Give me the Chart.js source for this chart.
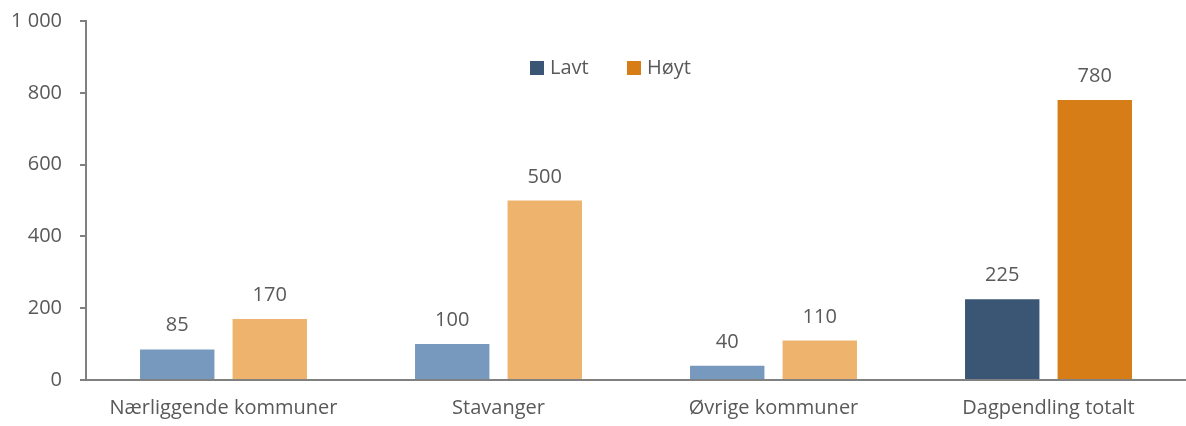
<!DOCTYPE html>
<html lang="no">
<head>
<meta charset="UTF-8">
<title>Dagpendling</title>
<script src="https://cdn.jsdelivr.net/npm/chart.js@4"></script>
<style>
  html, body { margin: 0; padding: 0; background: #fff; }
  #wrap { width: 1186px; height: 426px; }
</style>
</head>
<body>
<div id="wrap"><canvas id="chart" width="1186" height="426"></canvas></div>
<script>
// data
const categories = ['Nærliggende kommuner', 'Stavanger', 'Øvrige kommuner', 'Dagpendling totalt'];
const lavt = [85, 100, 40, 225];
const hoyt = [170, 500, 110, 780];
const yTicks = [0, 200, 400, 600, 800, 1000];

const textColor = '#595959';
const fontFamily = '"Open Sans", sans-serif';
const lavtColors = ['#7899be', '#7899be', '#7899be', '#3a5674'];
const hoytColors = ['#eeb36c', '#eeb36c', '#eeb36c', '#d67d17'];

function fmt(v) {
  return String(v).replace(/\B(?=(\d{3})+(?!\d))/g, ' ');
}

// value over each bar
const barLabels = {
  id: 'barLabels',
  afterDatasetsDraw(chart) {
    const ctx = chart.ctx;
    ctx.save();
    ctx.font = '20px ' + fontFamily;
    ctx.fillStyle = textColor;
    ctx.textAlign = 'center';
    ctx.textBaseline = 'alphabetic';
    chart.data.datasets.forEach((ds, i) => {
      chart.getDatasetMeta(i).data.forEach((bar, j) => {
        ctx.fillText(fmt(ds.data[j]), bar.x, bar.y - 18);
      });
    });
    ctx.restore();
  }
};

// legend drawn in one row inside the plot, like the original
const innerLegend = {
  id: 'innerLegend',
  afterDraw(chart) {
    const ctx = chart.ctx;
    const area = chart.chartArea;
    ctx.save();
    ctx.font = '20px ' + fontFamily;
    ctx.textBaseline = 'middle';
    let x = area.left + 444;
    const y = area.top + 47;
    chart.data.datasets.forEach(ds => {
      ctx.fillStyle = ds.backgroundColor[3];
      ctx.fillRect(x, y - 7, 14, 14);
      ctx.fillStyle = textColor;
      ctx.fillText(ds.label, x + 20, y);
      x += 97;
    });
    ctx.restore();
  }
};

new Chart(document.getElementById('chart').getContext('2d'), {
  type: 'bar',
  data: {
    labels: categories,
    datasets: [{
      label: 'Lavt',
      data: lavt,
      backgroundColor: lavtColors,
      categoryPercentage: 0.673,
      barPercentage: 0.804
    }, {
      label: 'Høyt',
      data: hoyt,
      backgroundColor: hoytColors,
      categoryPercentage: 0.673,
      barPercentage: 0.804
    }]
  },
  options: {
    responsive: false,
    animation: false,
    layout: { padding: { left: 0, right: -4, top: 21, bottom: 0 } },
    plugins: {
      tooltip: { enabled: false },
      legend: { display: false }
    },
    scales: {
      x: {
        grid: { display: false, drawTicks: false },
        border: { color: '#808080', width: 2 },
        ticks: { color: textColor, font: { family: fontFamily, size: 20 }, padding: 16, maxRotation: 0 },
        afterFit(axis) { axis.height = 46; axis.paddingLeft = 0; axis.paddingRight = 0; }
      },
      y: {
        min: 0,
        max: 1000,
        afterBuildTicks(axis) { axis.ticks = yTicks.map(v => ({ value: v })); },
        grid: { drawOnChartArea: false, tickLength: 6, color: '#808080', lineWidth: 2 },
        border: { color: '#808080', width: 2 },
        ticks: { color: textColor, font: { family: fontFamily, size: 20 }, padding: 18, callback: v => fmt(v) },
        afterFit(axis) { axis.width = 86; axis.paddingTop = 0; axis.paddingBottom = 0; }
      }
    }
  },
  plugins: [barLabels, innerLegend]
});
</script>
</body>
</html>
